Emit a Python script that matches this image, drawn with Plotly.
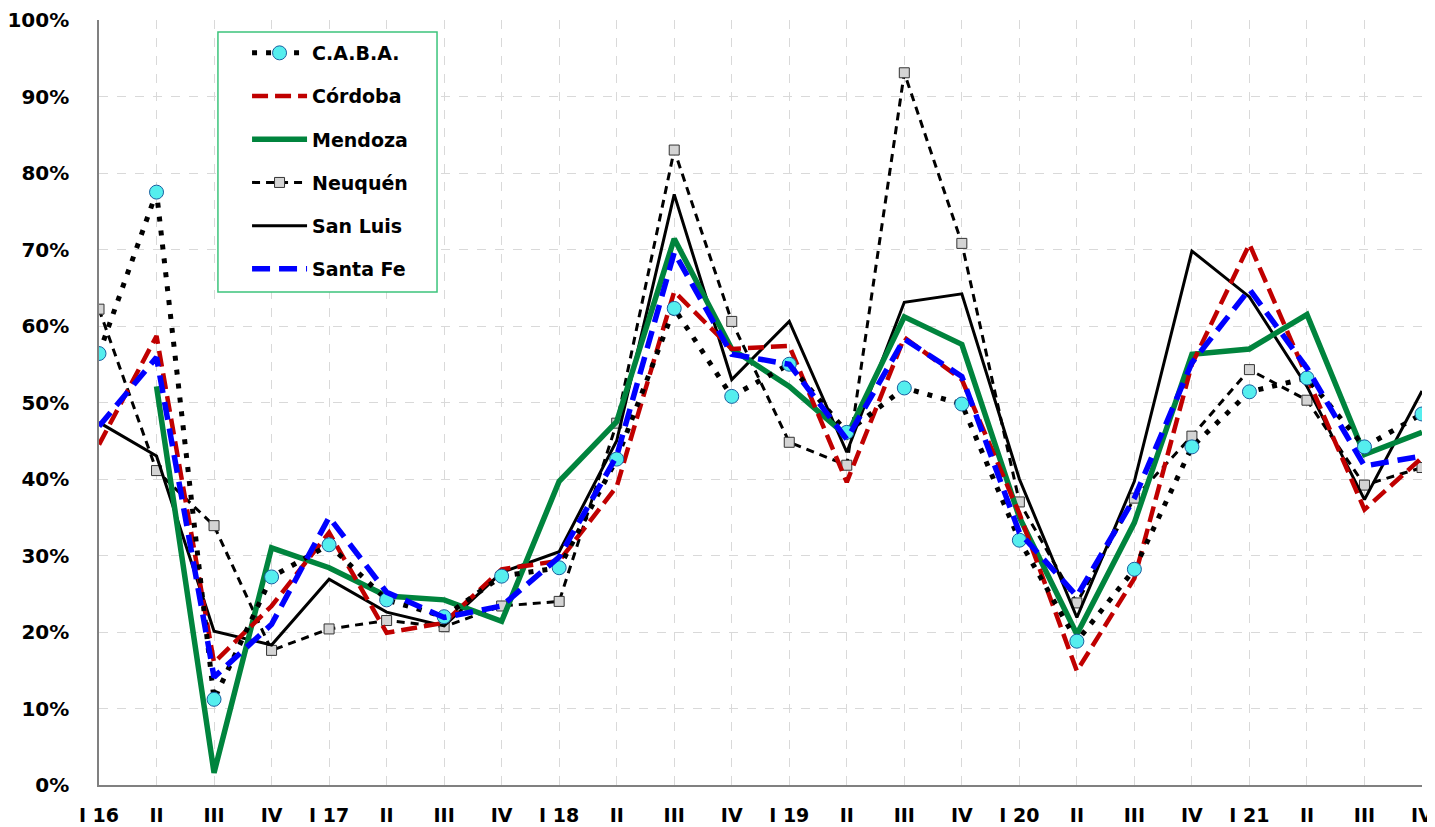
import plotly.graph_objects as go

quarters = ["I 16", "II", "III", "IV", "I 17", "II", "III", "IV", "I 18", "II", "III", "IV",
            "I 19", "II", "III", "IV", "I 20", "II", "III", "IV", "I 21", "II", "III", "IV"]

caba = [56.4, 77.5, 11.2, 27.2, 31.4, 24.2, 22.0, 27.3, 28.4, 42.6, 62.3, 50.8,
        55.0, 46.1, 51.9, 49.8, 32.0, 18.8, 28.2, 44.2, 51.4, 53.2, 44.2, 48.5]
cordoba = [44.5, 58.7, 16.0, 23.4, 33.0, 19.9, 21.2, 28.2, 29.3, 39.0, 64.5, 57.0,
           57.4, 39.6, 58.5, 53.0, 35.5, 14.9, 27.0, 55.0, 70.7, 53.5, 36.0, 42.8]
mendoza = [None, 52.1, 1.6, 31.0, 28.4, 24.7, 24.2, 21.4, 39.7, 47.5, 71.4, 57.0,
           52.1, 45.6, 61.2, 57.6, 35.0, 19.7, 34.3, 56.3, 57.0, 61.5, 43.2, 46.1]
neuquen = [62.2, 41.1, 33.9, 17.6, 20.4, 21.5, 20.7, 23.4, 24.0, 47.3, 83.0, 60.6,
           44.8, 41.8, 93.1, 70.8, 37.0, 23.8, 37.5, 45.6, 54.3, 50.3, 39.2, 41.5]
san_luis = [47.4, 43.0, 20.1, 18.3, 26.9, 22.6, 20.8, 27.8, 30.5, 45.0, 77.2, 53.0,
            60.6, 43.5, 63.1, 64.2, 40.0, 21.9, 39.7, 69.8, 63.8, 52.1, 37.3, 51.5]
santa_fe = [46.9, 55.9, 14.1, 21.0, 35.0, 25.2, 21.9, 23.4, 29.8, 43.0, 69.6, 56.3,
            55.0, 45.2, 58.3, 53.4, 33.0, 24.7, 37.5, 55.2, 64.8, 54.5, 41.7, 43.0]

y_ticks = [0, 10, 20, 30, 40, 50, 60, 70, 80, 90, 100]
y_ticktext = [f"{v}%" for v in y_ticks]

x = list(range(len(quarters)))

fig = go.Figure()

# drawing order (bottom -> top), legend order via legendrank
fig.add_trace(go.Scatter(
    x=x, y=neuquen, name="Neuquén", mode="lines+markers", legendrank=4, legendgroup="d",
    line=dict(color="black", width=3, dash="8px,6px"),
    marker=dict(symbol="square", size=10, color="#d4d4d4", line=dict(color="#333333", width=1))))
fig.add_trace(go.Scatter(
    x=x, y=san_luis, name="San Luis", mode="lines", legendrank=5, legendgroup="e",
    line=dict(color="black", width=3)))
fig.add_trace(go.Scatter(
    x=x, y=mendoza, name="Mendoza", mode="lines", legendrank=3, legendgroup="c",
    line=dict(color="#00843d", width=5.5)))
fig.add_trace(go.Scatter(
    x=x, y=cordoba, name="Córdoba", mode="lines", legendrank=2, legendgroup="b",
    line=dict(color="#c00000", width=4.5, dash="16px,7px")))
fig.add_trace(go.Scatter(
    x=x, y=caba, name="C.A.B.A.", mode="lines+markers", legendrank=1, legendgroup="a",
    line=dict(color="black", width=5, dash="5px,9px"),
    marker=dict(symbol="circle", size=14, color="#55eeee", line=dict(color="#1a5fa0", width=1))))
fig.add_trace(go.Scatter(
    x=x, y=santa_fe, name="Santa Fe", mode="lines", legendrank=6, legendgroup="f",
    line=dict(color="#0000ff", width=5.5, dash="18px,9px")))

fig.update_layout(
    width=1427, height=819,
    margin=dict(l=91, r=13, t=12, b=42),
    paper_bgcolor="white", plot_bgcolor="white",
    font=dict(family="DejaVu Sans", color="black"),
    showlegend=True,
    legend=dict(
        x=0.1119, y=0.9817, xanchor="left", yanchor="top",
        bgcolor="rgba(0,0,0,0)", borderwidth=0,
        font=dict(size=19, family="DejaVu Sans", weight="bold"),
        itemwidth=55, tracegroupgap=15.5,
        traceorder="grouped",
    ),
    shapes=[dict(
        type="rect", xref="paper", yref="paper",
        x0=0.0899, x1=0.2555, y0=0.6444, y1=0.9843,
        fillcolor="white", line=dict(color="#3cc47c", width=1.5), layer="above",
    )],
    xaxis=dict(
        range=[0, 23], tickvals=x, ticktext=quarters, automargin=False,
        showgrid=True, gridcolor="#d9d9d9", griddash="dash", gridwidth=1,
        showline=True, linecolor="#808080", linewidth=1.5,
        ticks="", zeroline=False, ticklabelstandoff=12,
        tickfont=dict(size=19, family="DejaVu Sans", weight="bold"),
    ),
    yaxis=dict(
        range=[0, 100], tickvals=y_ticks, ticktext=y_ticktext, automargin=False,
        showgrid=True, gridcolor="#d9d9d9", griddash="dash", gridwidth=1,
        showline=True, linecolor="#808080", linewidth=1.5,
        ticks="", zeroline=False, ticklabelstandoff=24,
        tickfont=dict(size=20, family="DejaVu Sans", weight="bold"),
    ),
)

fig.write_html("out.html")
